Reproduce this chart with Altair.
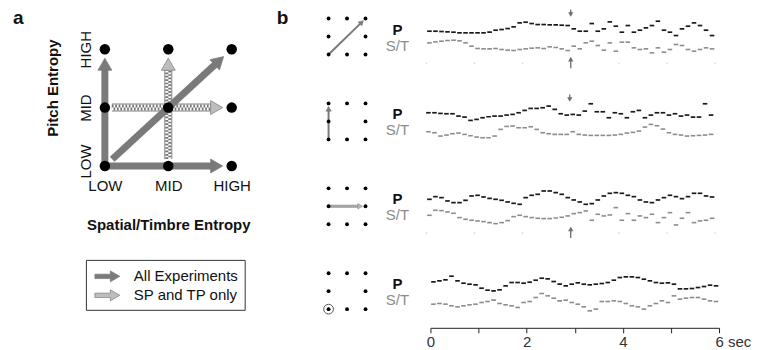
import math
import json
import altair as alt
import pandas as pd

FONT = "Liberation Sans"
INK = "#111111"
ARROW_GRAY = "#7a7a7a"
LIGHT = "#bdbdbd"
P_COLOR = "#1a1a1a"
ST_COLOR = "#8c8c8c"

# ---------------- data: panel a (entropy design) ----------------
levels = ["LOW", "MID", "HIGH"]
kinds = ["All Experiments", "SP and TP only"]
arrow_kind = [kinds[0], kinds[0], kinds[0], kinds[1], kinds[1]]
arrow_x0 = [0, 0, 0, 0, 1]
arrow_y0 = [0, 0, 0, 1, 0]
arrow_x1 = [0, 2, 2, 2, 1]
arrow_y1 = [2, 0, 2, 1, 2]

# ---------------- data: panel b (example sequences) ----------------
note_dur = 0.125          # seconds per note
switch_time = 3.0         # entropy switch
time_ticks = [0, 1, 2, 3, 4, 5, 6]
time_unit = "sec"
series_names = ["P", "S/T"]

P_rows = [
    [75, 75, 74, 73, 72, 70, 70, 70, 70, 70, 72, 78, 80, 83, 88, 100, 102, 98, 95, 95, 94, 94, 93, 92,
     82, 75, 75, 98, 75, 82, 103, 90, 72, 92, 72, 78, 85, 92, 105, 78, 72, 62, 82, 90, 100, 92, 78, 62],
    [85, 85, 83, 82, 82, 75, 72, 62, 65, 70, 73, 75, 75, 78, 80, 85, 92, 98, 98, 100, 105, 95, 82, 78,
     80, 78, 90, 112, 88, 88, 70, 85, 82, 70, 88, 92, 70, 78, 85, 85, 78, 82, 75, 78, 72, 72, 112, 78],
    [80, 88, 85, 75, 70, 70, 77, 90, 92, 87, 83, 80, 77, 72, 68, 65, 85, 92, 95, 105, 105, 100, 95, 85,
     78, 72, 65, 67, 78, 90, 98, 100, 98, 92, 88, 78, 72, 70, 78, 85, 92, 88, 82, 88, 98, 98, 90, 87],
    [87, 90, 93, 104, 90, 83, 80, 78, 68, 62, 60, 63, 75, 85, 85, 83, 86, 92, 98, 96, 88, 80, 75, 80,
     84, 80, 78, 80, 82, 85, 92, 100, 102, 102, 100, 95, 90, 85, 83, 84, 80, 66, 66, 67, 70, 73, 77, 75],
]
ST_rows = [
    [40, 43, 45, 47, 48, 46, 40, 30, 23, 22, 22, 23, 20, 18, 17, 20, 22, 24, 25, 23, 28, 26, 22, 17,
     30, 22, 40, 45, 32, 18, 40, 15, 42, 42, 25, 20, 22, 10, 25, 12, 20, 35, 32, 20, 15, 20, 25, 22],
    [28, 25, 15, 18, 22, 24, 20, 16, 12, 10, 10, 15, 35, 44, 45, 40, 40, 43, 35, 25, 22, 20, 20, 20,
     28, 20, 18, 17, 17, 17, 17, 18, 20, 24, 26, 30, 42, 50, 46, 36, 25, 20, 18, 15, 16, 17, 18, 20],
    [32, 47, 46, 42, 38, 25, 20, 17, 15, 13, 10, 7, 10, 16, 28, 32, 28, 25, 23, 22, 22, 24, 26, 30,
     37, 40, 45, 17, 35, 30, 33, 55, 17, 37, 17, 30, 25, 35, 10, 25, 40, 3, 23, 40, 10, 15, 17, 23],
    [20, 22, 20, 15, 12, 15, 18, 20, 25, 28, 32, 22, 18, 15, 10, 25, 28, 40, 52, 45, 38, 30, 32, 25,
     20, 12, 0, 5, 28, 28, 30, 28, 22, 15, 12, 5, 15, 22, 30, 25, 45, 35, 38, 40, 40, 35, 30, 28],
]
# condition of each example on the 3x3 entropy grid (from -> to)
cond_x0 = [0, 0, 0, 0]
cond_y0 = [0, 0, 1, 0]
cond_x1 = [2, 0, 2, 0]
cond_y1 = [2, 2, 1, 0]
cond_kind = [kinds[0], kinds[0], kinds[1], None]
p_switch = [True, True, False, False]
st_switch = [True, False, True, False]
faint_marks = [True, False, True, False]

# ---------------- layout constants ----------------
A_W = 127                # LOW..HIGH horizontally (px)
A_GRID_H = 117           # LOW..HIGH vertically (px)
A_TOP = 40               # px of plot above the HIGH row
A_H = A_GRID_H + A_TOP
G_W, TS_W = 144, 289
ROW_H = [72, 85, 85, 77]
ROW_TOP = [141, 180, 180, 180]
GX_PX = 18.5             # px per grid column in the mini grids
GY_PX = 18.0             # px per grid row in the mini grids
ARROW_PATH = "M-1.25,-0.22L0.3,-0.22L0.3,-0.55L1.25,0L0.3,0.55L0.3,0.22L-1.25,0.22Z"


def arrow_geom(x0, y0, x1, y1, kx, ky, gap0, gap1, head_size, back):
    dx, dy = (x1 - x0) * kx, (y1 - y0) * ky
    L = math.hypot(dx, dy)
    ux, uy = dx / L, dy / L

    def at(d):
        return x0 + ux * d / kx, y0 + uy * d / ky

    hl = 0.433 * math.sqrt(head_size)
    tip = L - gap1
    sx, sy = at(gap0)
    ex, ey = at(tip - hl - back)
    hx, hy = at(tip - hl)
    ang = math.degrees(math.atan2(dx, dy)) % 360
    return dict(sx=sx, sy=sy, ex=ex, ey=ey, hx=hx, hy=hy, ang=ang,
                px=-uy / kx, py=ux / ky)


# ================= panel a =================
kxA, kyA = A_W / 2, A_GRID_H / 2
solid_rows, chk_rows, head_rows = [], [], []
for k, x0, y0, x1, y1 in zip(arrow_kind, arrow_x0, arrow_y0, arrow_x1, arrow_y1):
    diag = (x0 != x1) and (y0 != y1)
    is_solid = k == kinds[0]
    gap0 = 10 if diag else (0 if is_solid else 7)
    gap1 = 11 if diag else 9
    g = arrow_geom(x0, y0, x1, y1, kxA, kyA, gap0, gap1, 196, 2)
    seg = {"x": g["sx"], "y": g["sy"], "x2": g["ex"], "y2": g["ey"], "px": g["px"], "py": g["py"]}
    (solid_rows if is_solid else chk_rows).append(seg)
    head_rows.append({"kind": k, "x": g["hx"], "y": g["hy"], "ang": g["ang"]})

solid_df = pd.DataFrame(solid_rows)
chk_df = pd.DataFrame(chk_rows)


def shifted(df, o):
    return pd.DataFrame({"x": df.x + df.px * o, "y": df.y + df.py * o,
                         "x2": df.x2 + df.px * o, "y2": df.y2 + df.py * o})


chk_a = shifted(chk_df, 1.5)
chk_b = shifted(chk_df, -1.5)
heads_df = pd.DataFrame(head_rows)
grid_df = pd.DataFrame({"x": [i % 3 for i in range(9)], "y": [i // 3 for i in range(9)]})

lvl_expr = f"{json.dumps(levels)}[datum.value]"
scAx = alt.Scale(domain=[0, 2], nice=False, zero=False)
scAy = alt.Scale(domain=[0, A_H / kyA], nice=False, zero=False)
ax_x = alt.Axis(values=[0, 1, 2], labelExpr=lvl_expr, title="Spatial/Timbre Entropy",
                domain=False, ticks=False, tickSize=0, grid=False, labelFontSize=15,
                labelPadding=13, labelFlush=False, labelOverlap=False, labelColor=INK,
                titleFontSize=15, titleFontWeight="bold", titlePadding=24, titleColor=INK)
ax_y = alt.Axis(values=[0, 1, 2], labelExpr=lvl_expr, title="Pitch Entropy",
                domain=False, ticks=False, tickSize=0, grid=False, labelFontSize=15,
                labelAngle=270, labelAlign="center", labelBaseline="bottom",
                labelPadding=11, labelFlush=False, labelOverlap=False, labelColor=INK,
                labelOffset={"condition": {"test": "datum.value == 0", "value": -5}, "value": 0},
                titleFontSize=15, titleFontWeight="bold", titlePadding=18, titleColor=INK)


def XA(f):
    return alt.X(f"{f}:Q", scale=scAx, axis=ax_x)


def YA(f):
    return alt.Y(f"{f}:Q", scale=scAy, axis=ax_y)


def seg_layer(df, **mark):
    return alt.Chart(df).mark_rule(**mark).encode(
        x=XA("x"), y=YA("y"), x2=alt.X2("x2:Q"), y2=alt.Y2("y2:Q"))


chk_border = seg_layer(chk_df, color="#808080", strokeWidth=8)
chk_white = seg_layer(chk_df, color="white", strokeWidth=6)
chk_l1 = seg_layer(chk_a, color="#767676", strokeWidth=3, strokeDash=[1.7, 1.7])
chk_l2 = seg_layer(chk_b, color="#767676", strokeWidth=3, strokeDash=[1.7, 1.7], strokeDashOffset=1.7)
solid_l = seg_layer(solid_df, color=ARROW_GRAY, strokeWidth=7)

heads = alt.Chart(heads_df).mark_point(
    shape="triangle-up", filled=True, size=196, stroke="#7a7a7a", strokeWidth=0.7, opacity=1
).encode(
    x=XA("x"), y=YA("y"),
    angle=alt.Angle("ang:Q", scale=None),
    fill=alt.Fill("kind:N", scale=alt.Scale(domain=kinds, range=[ARROW_GRAY, LIGHT]),
                  legend=alt.Legend(title=None, orient="none", legendX=-19, legendY=251,
                                    symbolType=ARROW_PATH, symbolSize=400, symbolOffset=5,
                                    symbolStrokeColor="#7a7a7a", symbolStrokeWidth=0.7,
                                    labelFontSize=15, labelColor=INK, labelOffset=16,
                                    padding=6, rowPadding=0, strokeColor="#333333",
                                    fillColor="white")),
)
dots = alt.Chart(grid_df).mark_circle(size=110, color="black", opacity=1).encode(x=XA("x"), y=YA("y"))
panel_label_a = alt.Chart(pd.DataFrame({"label": ["a"]})).mark_text(
    fontSize=19, fontWeight="bold", color=INK, align="left", baseline="alphabetic"
).encode(x=alt.value(-92), y=alt.value(15), text="label:N")

panel_a = alt.layer(chk_border, chk_white, chk_l1, chk_l2, solid_l, heads, dots,
                    panel_label_a).properties(width=A_W, height=A_H)


# ================= panel b =================
def grid_h(g):
    return 5 + 54 * g


def row_chart(r):
    H = ROW_H[r]
    hi = ROW_TOP[r]
    lo = hi - 3 * H
    ys = alt.Scale(domain=[lo, hi], nice=False, zero=False)
    xs_t = alt.Scale(domain=[0, 6], nice=False, zero=False)
    xs_g = alt.Scale(domain=[-57 / GX_PX, 87 / GX_PX], nice=False, zero=False)

    # ---- mini grid + labels ----
    dots_df = pd.DataFrame([{"gx": gx, "h": grid_h(gy)} for gy in range(3) for gx in range(3)
                            if not (gx == 1 and gy == 1)])
    XG = alt.X("gx:Q", scale=xs_g, axis=None)
    YG = alt.Y("h:Q", scale=ys, axis=None)
    glayers = []
    x0, y0, x1, y1, kind = cond_x0[r], cond_y0[r], cond_x1[r], cond_y1[r], cond_kind[r]
    if kind is None:
        ring = pd.DataFrame({"gx": [x0], "h": [grid_h(y0)]})
        glayers.append(alt.Chart(ring).mark_point(shape="circle", filled=False, size=95,
                                                  stroke="#555555", strokeWidth=1, opacity=1)
                       .encode(x=XG, y=YG))
    else:
        g = arrow_geom(x0, y0, x1, y1, GX_PX, GY_PX, 0, 3, 30, 0.5)
        seg = pd.DataFrame({"gx": [g["sx"]], "h": [grid_h(g["sy"])],
                            "gx2": [g["ex"]], "h2": [grid_h(g["ey"])]})
        hd = pd.DataFrame({"gx": [g["hx"]], "h": [grid_h(g["hy"])], "ang": [g["ang"]]})
        if kind == kinds[0]:
            glayers.append(alt.Chart(seg).mark_rule(color=ARROW_GRAY, strokeWidth=2)
                           .encode(x=XG, y=YG, x2="gx2:Q", y2="h2:Q"))
            hfill = ARROW_GRAY
        else:
            glayers.append(alt.Chart(seg).mark_rule(color="#c8c8c8", strokeWidth=3)
                           .encode(x=XG, y=YG, x2="gx2:Q", y2="h2:Q"))
            glayers.append(alt.Chart(seg).mark_rule(color="#7f7f7f", strokeWidth=3, strokeDash=[1, 1])
                           .encode(x=XG, y=YG, x2="gx2:Q", y2="h2:Q"))
            hfill = "#bdbdbd"
        glayers.append(alt.Chart(hd).mark_point(shape="triangle-up", filled=True, size=30, color=hfill,
                                                stroke="#7a7a7a", strokeWidth=0.5, opacity=1)
                       .encode(x=XG, y=YG, angle=alt.Angle("ang:Q", scale=None)))
    glayers.append(alt.Chart(dots_df).mark_circle(size=15, color="black", opacity=1).encode(x=XG, y=YG))
    lab = pd.DataFrame({"series": series_names, "h": [80, 32]})
    glayers.append(alt.Chart(lab).transform_filter(alt.datum.series == series_names[0])
                   .mark_text(fontSize=15, fontWeight="bold", color=INK, align="center", baseline="middle")
                   .encode(x=alt.value(126), y=YG, text="series:N"))
    glayers.append(alt.Chart(lab).transform_filter(alt.datum.series == series_names[1])
                   .mark_text(fontSize=15, color=ST_COLOR, align="center", baseline="middle")
                   .encode(x=alt.value(126), y=YG, text="series:N"))
    if r == 0:
        glayers.append(alt.Chart(pd.DataFrame({"label": ["b"]}))
                       .mark_text(fontSize=19, fontWeight="bold", color=INK, align="left",
                                  baseline="alphabetic")
                       .encode(x=alt.value(5), y=alt.value(15), text="label:N"))
    grid = alt.layer(*glayers).properties(width=G_W, height=H)

    # ---- time series ----
    if r == len(P_rows) - 1:
        last = max(time_ticks)
        xaxis = alt.Axis(values=time_ticks, title=None, grid=False, tickSize=5, tickColor="#222222",
                         domainColor="#222222",
                         labelExpr=f"datum.value % 2 == 0 ? (datum.value == {last} ? '{last} {time_unit}' : datum.label) : ''",
                         labelFontSize=15, labelColor="#333333", labelPadding=2, labelFlush=False,
                         labelOverlap=False,
                         labelAlign={"condition": {"test": f"datum.value == {last}", "value": "left"},
                                     "value": "center"},
                         labelOffset={"condition": {"test": f"datum.value == {last}", "value": -4},
                                      "value": 0})
    else:
        xaxis = None
    XT = alt.X("t:Q", scale=xs_t, axis=xaxis)
    YT = alt.Y("h:Q", scale=ys, axis=None)
    n = len(P_rows[r])
    times = [i * note_dur + note_dur / 2 for i in range(n)]
    dfP = pd.DataFrame({"t": times, "h": P_rows[r]})
    dfS = pd.DataFrame({"t": times, "h": ST_rows[r]})
    tl = [
        alt.Chart(dfP).mark_tick(orient="horizontal", size=4.6, thickness=1.7, color=P_COLOR, opacity=1)
        .encode(x=XT, y=YT),
        alt.Chart(dfS).mark_tick(orient="horizontal", size=4.6, thickness=1.6, color=ST_COLOR, opacity=1)
        .encode(x=XT, y=YT),
    ]
    if faint_marks[r]:
        fm = pd.DataFrame({"t": time_ticks, "h": [-21] * len(time_ticks)})
        tl.append(alt.Chart(fm).mark_circle(size=2, color="#c8c8c8", opacity=1).encode(x=XT, y=YT))
    arrows_shaft, arrows_head = [], []
    if p_switch[r]:
        arrows_shaft.append({"t": switch_time, "h": 140, "h2": 125})
        arrows_head.append({"t": switch_time, "h": 125, "ang": 180})
    if st_switch[r]:
        arrows_shaft.append({"t": switch_time, "h": -36, "h2": -9})
        arrows_head.append({"t": switch_time, "h": -9, "ang": 0})
    if arrows_shaft:
        tl.append(alt.Chart(pd.DataFrame(arrows_shaft)).mark_rule(color="#6e6e6e", strokeWidth=1.3)
                  .encode(x=XT, y=YT, y2="h2:Q"))
        tl.append(alt.Chart(pd.DataFrame(arrows_head))
                  .mark_point(shape="triangle-up", filled=True, size=28, color="#6e6e6e", opacity=1)
                  .encode(x=XT, y=YT, angle=alt.Angle("ang:Q", scale=None)))
    ts = alt.layer(*tl).properties(width=TS_W, height=H)
    return alt.hconcat(grid, ts, spacing=10)


panel_b = alt.vconcat(*[row_chart(r) for r in range(len(P_rows))], spacing=0)

chart = alt.hconcat(panel_a, panel_b, spacing=21).properties(
    padding={"left": 5, "top": 0, "right": 0, "bottom": 0}
).configure(font=FONT).configure_view(stroke="transparent", strokeWidth=0)

chart.save("out.html", embed_options={"renderer": "svg", "actions": False})
